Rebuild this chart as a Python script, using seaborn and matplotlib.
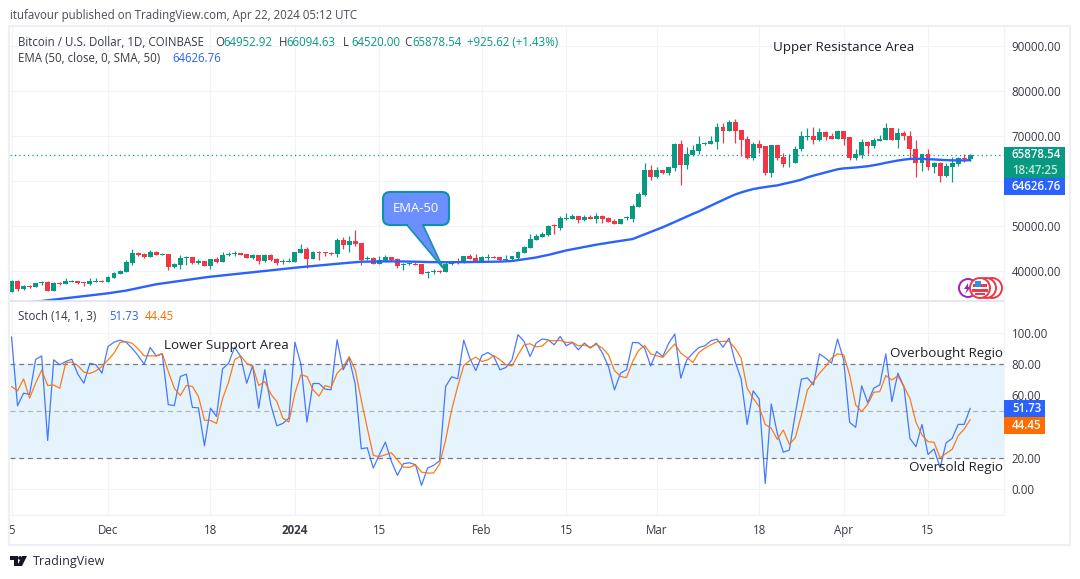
from abc import ABC, abstractmethod
import pandas as pd
import seaborn as sns
import matplotlib.pyplot as plt
from matplotlib.patches import Circle, FancyBboxPatch, Polygon, Rectangle

GREEN = '#089981'
RED = '#F23645'
BLUE = '#2962FF'
ORANGE = '#FF6D00'
GRID = '#f0f3fa'
TEXT = '#363a45'
WIDTH, HEIGHT = 1080, 579

# open, high, low, close of each day from Nov 15 to Apr 22
candles = [
    [35400, 37930, 35400, 37780], [37780, 37930, 35630, 36000], [36000, 36890, 35780, 36670], [36740, 36890, 36150, 36440],
    [36440, 37410, 36440, 37260], [37260, 37780, 36890, 37410], [37480, 37700, 35630, 35630], [35630, 37480, 35630, 37260],
    [37330, 37560, 36890, 37110], [37110, 38370, 37110, 37780], [37630, 38000, 37560, 37780], [37700, 37700, 37040, 37410],
    [37480, 37480, 36670, 37330], [37040, 38440, 36890, 37780], [37560, 38440, 37560, 37700], [37700, 38070, 37560, 37560],
    [37560, 38890, 37560, 38670], [38440, 39780, 38440, 39560], [39330, 40220, 39330, 40000], [39780, 42440, 39780, 42000],
    [41780, 44890, 41330, 44000], [44000, 44220, 43330, 43560], [43780, 44000, 42890, 43110], [43110, 44670, 43110, 44220],
    [44220, 44440, 43560, 43560], [43560, 44000, 43560, 43780], [43780, 43780, 40220, 40890], [40890, 41780, 40670, 41560],
    [41330, 43560, 40440, 42890], [42890, 43330, 41330, 43110], [43110, 43110, 41560, 41780], [41780, 42670, 41560, 42220],
    [42220, 42220, 41110, 41110], [41110, 42670, 40440, 42670], [42670, 43110, 41780, 42000], [42000, 44220, 42000, 43560],
    [43560, 44220, 43330, 43780], [43780, 44440, 43330, 44000], [44000, 44000, 43560, 43560], [43780, 43780, 42890, 42890],
    [42890, 43780, 42670, 43560], [43560, 43560, 41560, 42300], [42300, 43780, 42070, 43560], [43560, 43780, 42300, 42440],
    [42670, 42890, 41330, 41780], [42000, 42670, 41560, 42220], [42070, 42810, 42070, 42220], [42070, 44150, 42070, 44150],
    [44000, 46000, 44000, 44890], [44890, 45330, 40670, 42670], [42670, 44440, 42670, 44220], [44220, 44440, 42520, 44070],
    [44220, 44220, 43330, 44070], [43930, 44220, 43560, 43780], [43780, 47330, 43110, 46890], [46890, 47560, 44890, 45780],
    [45780, 47780, 44220, 46670], [46670, 49110, 45480, 46070], [46220, 46220, 41330, 42440], [42670, 43330, 42440, 42890],
    [42890, 43110, 41560, 41560], [41560, 43330, 41560, 42440], [42220, 43560, 42220, 43110], [43110, 43110, 42220, 42440],
    [42670, 42890, 40670, 41110], [41330, 41780, 40220, 41560], [41480, 41780, 41330, 41630], [41630, 41930, 41330, 41330],
    [41560, 41560, 39330, 39330], [39480, 40000, 38440, 39780], [39780, 40440, 39330, 40000], [40000, 40220, 39560, 39780],
    [39780, 42070, 39780, 41560], [41560, 42300, 41330, 42220], [42220, 42810, 41560, 42070], [41850, 43330, 41850, 43330],
    [43330, 43780, 42670, 42670], [42890, 43780, 42300, 42300], [42220, 43330, 42070, 43110], [42890, 43780, 42440, 43110],
    [43180, 43330, 42810, 42960], [43040, 43190, 42150, 42370], [42520, 43630, 42150, 42740], [42590, 43410, 42520, 43260],
    [42960, 44440, 42740, 44300], [44070, 45630, 44070, 45410], [45190, 48300, 45190, 47190], [46960, 48300, 46960, 47850],
    [47630, 48740, 47630, 48300], [48070, 50300, 47850, 50070], [50220, 50520, 48300, 50070], [49630, 52150, 49190, 51850],
    [51630, 52960, 51410, 51850], [51630, 52740, 51630, 52300], [52300, 52300, 50740, 51410], [51330, 52520, 51190, 52070],
    [52070, 52520, 51630, 51630], [51630, 52960, 50740, 52300], [52300, 52520, 50740, 51630], [51850, 52070, 50960, 50960],
    [51190, 51630, 50520, 50520], [50520, 51630, 50520, 51630], [51700, 52150, 51410, 51930], [51630, 54960, 50960, 54520],
    [54300, 57630, 54300, 57190], [56960, 64070, 56740, 62520], [62520, 63630, 60300, 60960], [60960, 63190, 60740, 62520],
    [62520, 62520, 61630, 61850], [61850, 63190, 61410, 63190], [62960, 68520, 62300, 68300], [68300, 69190, 59190, 63630],
    [63630, 67630, 62740, 66070], [65850, 68070, 65630, 66960], [66740, 70070, 66070, 68300], [68300, 68740, 68070, 68520],
    [68300, 70070, 68300, 68960], [68740, 72960, 67190, 72070], [72070, 72960, 68520, 71190], [71190, 73630, 71190, 73190],
    [73190, 73850, 68520, 71190], [71410, 71410, 65630, 69190], [69440, 70000, 64780, 65000], [65000, 68560, 64560, 68330],
    [68330, 69000, 66330, 67440], [67670, 67670, 61440, 61670], [61670, 68110, 60780, 67890], [67890, 68110, 64560, 65220],
    [65440, 66330, 63220, 63670], [63890, 66110, 63220, 64110], [63890, 67670, 63890, 67220], [67000, 71220, 66560, 69890],
    [69670, 71670, 69220, 69890], [69890, 71890, 68330, 69220], [69220, 71670, 68780, 70780], [70780, 71000, 69000, 69670],
    [69890, 70560, 69440, 69440], [69440, 71440, 69440, 71220], [71220, 71220, 68110, 69440], [69670, 69670, 64560, 65220],
    [65220, 67000, 64560, 66110], [65670, 69440, 65220, 68560], [68560, 68780, 66110, 67670], [67670, 69590, 67440, 69000],
    [68780, 70330, 68780, 69440], [69220, 72780, 69000, 71670], [71670, 71670, 69000, 69000], [69000, 71670, 67440, 70560],
    [70560, 71220, 69220, 69890], [70110, 71220, 65220, 67000], [67220, 69000, 60780, 63890], [63890, 65890, 62260, 65890],
    [65890, 67000, 62340, 63220], [63220, 64330, 61670, 63890], [63890, 64330, 59670, 61000], [61000, 63890, 60780, 63440],
    [63220, 65440, 59670, 63890], [63670, 65440, 63440, 65000], [65000, 65890, 64330, 64780], [64952.92, 66094.63, 64520, 65878.54],
]
ema = [
    32550, 32700, 32860, 33010, 33170, 33330, 33480, 33640, 33790, 33950, 34100, 34260, 34420, 34570, 34730, 34880,
    35040, 35250, 35450, 35640, 35930, 36210, 36490, 36770, 37050, 37240, 37430, 37640, 37830, 38020, 38200, 38380,
    38560, 38730, 38870, 39010, 39150, 39290, 39430, 39560, 39690, 39840, 39990, 40140, 40290, 40440, 40590, 40730,
    40850, 40980, 41100, 41230, 41350, 41480, 41600, 41720, 41840, 41960, 42070, 42090, 42110, 42120, 42130, 42140,
    42130, 42110, 42090, 42070, 42020, 41990, 41970, 41950, 41940, 41950, 41960, 41980, 41990, 42000, 42020, 42040,
    42060, 42090, 42150, 42220, 42420, 42600, 42800, 43000, 43300, 43560, 43890, 44240, 44570, 44830, 45090, 45340,
    45600, 45850, 46070, 46280, 46490, 46690, 46890, 47100, 47630, 48150, 48690, 49200, 49720, 50300, 50900, 51500,
    52120, 52700, 53250, 53900, 54530, 55160, 55800, 56400, 57000, 57450, 57850, 58200, 58450, 58650, 58850, 59020,
    59350, 59650, 59950, 60300, 60800, 61200, 61550, 61900, 62250, 62600, 62800, 62900, 63000, 63150, 63280, 63500,
    63750, 64050, 64300, 64550, 64750, 64900, 64950, 64920, 64860, 64790, 64700, 64640, 64590, 64570, 64580, 64626.76,
]
stoch_k = [
    97.5, 53.3, 61.4, 60.6, 83, 85.3, 31.1, 82.8, 79.6, 81.7, 83.2, 73.6, 67.8, 80.6, 79.6, 74.2,
    91.3, 94.1, 95.4, 94.1, 90.2, 85.5, 80, 90.7, 85.3, 86.6, 54, 53.5, 72.1, 73.6, 52.3, 52,
    27.7, 51.8, 46.5, 77, 80.6, 90.9, 84.9, 67.8, 79.1, 51.8, 76.4, 54, 40.5, 42, 45.4, 94.1,
    80, 42.9, 67.6, 67.6, 64, 63.6, 95.6, 76.4, 83.8, 67.2, 25.8, 26.4, 13.4, 21.9, 30, 17.7,
    8.7, 16.2, 16.8, 15.5, 2.3, 13.4, 15.1, 18.1, 65.7, 71.9, 70.6, 95.4, 83.8, 75.9, 85.5, 87.5,
    84.9, 76.4, 77.9, 82.8, 98.9, 94.6, 84.9, 93.5, 96.1, 95.6, 92.4, 97.8, 91.8, 93.9, 89.2, 93.5,
    90.3, 93.5, 87.1, 78.5, 63.5, 74.2, 76.4, 93.9, 93.7, 90.3, 78.9, 88.1, 84.9, 93.5, 99.3, 71,
    82.8, 87.1, 90.7, 91.8, 95, 96.1, 90.9, 96.7, 81.7, 70.6, 41.4, 62.9, 57.7, 3.5, 54.5, 35.6,
    23.6, 24.9, 48.5, 70.4, 71.2, 66.7, 86.6, 83.9, 80.6, 96.1, 82.8, 42.7, 39.5, 66.1, 55.4, 64.6,
    66.7, 86.6, 56, 74.2, 65.6, 32.4, 27.1, 41.4, 22.1, 25.6, 13.6, 29.6, 32.4, 41.4, 41.4, 51.73,
]
stoch_d = [
    65.7, 62.9, 70.6, 58.2, 67.8, 76.2, 66.3, 66.6, 64.6, 80.9, 81.3, 79.1, 74.9, 74, 75.7, 78.5,
    82.8, 87, 93.9, 94.5, 93.4, 89.8, 85.3, 85.3, 85.3, 86.8, 75.3, 64.6, 59.9, 66.3, 65.7, 59.3,
    44.1, 43.9, 42, 57.8, 68.5, 82.8, 85.3, 80.6, 78.5, 66.3, 68.9, 60.8, 56.1, 45.4, 42.9, 61.4,
    73.2, 72.1, 63.6, 59.5, 66.3, 65.1, 74.2, 78.1, 84.9, 76.4, 57.2, 39, 21.5, 20.7, 21.9, 23.2,
    18.7, 14, 13.8, 15.5, 10.8, 10.2, 10.2, 16, 31.5, 50.8, 65.7, 79.1, 82.3, 84.5, 81.7, 82.8,
    85.5, 82.8, 79.6, 78.9, 86, 92.4, 93.1, 91.1, 91.6, 95.2, 95, 95.2, 93.9, 94.1, 91.8, 92.2,
    90.9, 92.6, 90.3, 86, 75.9, 72.1, 71.4, 81.7, 88.8, 92, 86.6, 85.4, 84.3, 88.8, 92.9, 87.1,
    84.3, 81.1, 87.5, 90.3, 92.4, 94.4, 94.6, 94.6, 90.3, 83.9, 64.6, 58.1, 52.8, 41.4, 38.9, 31.8,
    37.8, 28.6, 32.9, 47.4, 63.5, 68.9, 74.2, 78.5, 83.9, 86.6, 86, 73.1, 53.9, 49.6, 54.3, 62,
    62.4, 72.7, 69.9, 72.5, 65.6, 58.1, 42.7, 34.6, 30.3, 29.9, 20, 22.8, 25.4, 34.1, 38.4, 44.45,
]

df = pd.DataFrame(candles, columns=['open', 'high', 'low', 'close'])
df['day'] = range(len(df))
df['ema'] = ema
df['k'] = stoch_k
df['d'] = stoch_d

day_ticks = [0, 16, 33, 47, 61, 78, 92, 107, 124, 138, 152]
day_labels = ['5', 'Dec', '18', '2024', '15', 'Feb', '15', 'Mar', '18', 'Apr', '15']

sns.set_theme(style='white')
plt.rcParams['font.family'] = ['Open Sans', 'DejaVu Sans']


def pane_rect(left, top, right, bottom):
    return [left / WIDTH, 1 - bottom / HEIGHT, (right - left) / WIDTH, (bottom - top) / HEIGHT]


class ChartPane(ABC):
    @abstractmethod
    def draw(self, df: pd.DataFrame):
        """
        Draw one part of the chart on the current figure.
        """
        pass


class pricePane(ChartPane):
    def draw(self, df: pd.DataFrame):
        """
        Draw the candles with the EMA line and the last price line.
        """
        plt.axes(pane_rect(10, 27, 1004, 301))
        colors = [GREEN if c >= o else RED for o, c in zip(df['open'], df['close'])]
        plt.vlines(df['day'], df['low'], df['high'], colors=colors, linewidth=0.85, zorder=3)
        bodies = (df['close'] - df['open']).abs().clip(lower=190)
        plt.bar(df['day'], bodies, bottom=df[['open', 'close']].min(axis=1), width=0.82,
                color=colors, linewidth=0, zorder=3)
        plt.axhline(65878.54, color=GREEN, linestyle=(0, (1, 2.5)), linewidth=0.9, zorder=2)
        sns.lineplot(x='day', y='ema', data=df, color=BLUE, linewidth=1.7, zorder=4)
        plt.xlim(-0.25, 164.6)
        plt.ylim(33333, 94222)
        plt.xlabel('')
        plt.ylabel('')
        plt.xticks(day_ticks, [])
        plt.yticks([40000, 50000, 60000, 70000, 80000, 90000])
        plt.gca().set_yticklabels(['40000.00', '50000.00', '', '70000.00', '80000.00', '90000.00'])
        plt.gca().yaxis.tick_right()
        plt.tick_params(axis='both', length=0, labelsize=8.3, labelcolor=TEXT, pad=5.5)
        plt.grid(color=GRID, linewidth=0.8, zorder=0)
        sns.despine(left=True, right=True, top=True, bottom=True)


class stochPane(ChartPane):
    def draw(self, df: pd.DataFrame):
        """
        Draw the stochastic lines and the band between 20 and 80.
        """
        plt.axes(pane_rect(10, 301, 1004, 515))
        plt.axhspan(20, 80, color='#e5f3fd', linewidth=0, zorder=1)
        plt.axhline(80, color='#787b86', linestyle=(0, (4, 3)), linewidth=0.9, zorder=2)
        plt.axhline(20, color='#787b86', linestyle=(0, (4, 3)), linewidth=0.9, zorder=2)
        plt.axhline(50, color='#b2b5be', linestyle=(0, (4, 3)), linewidth=0.9, zorder=2)
        sns.lineplot(x='day', y='k', data=df, color=BLUE, linewidth=0.9, alpha=0.85, zorder=3)
        sns.lineplot(x='day', y='d', data=df, color=ORANGE, linewidth=0.9, alpha=0.9, zorder=4)
        plt.xlim(-0.25, 164.6)
        plt.ylim(-16.7, 120.5)
        plt.xlabel('')
        plt.ylabel('')
        plt.xticks(day_ticks, day_labels)
        plt.yticks([0, 20, 40, 60, 80, 100])
        plt.gca().set_yticklabels(['0.00', '20.00', '', '60.00', '80.00', '100.00'])
        plt.gca().yaxis.tick_right()
        plt.tick_params(axis='y', length=0, labelsize=8.3, labelcolor=TEXT, pad=5.5)
        plt.tick_params(axis='x', length=0, labelsize=8.3, labelcolor=TEXT, pad=6.5)
        plt.gca().get_xticklabels()[3].set_fontweight('bold')
        plt.grid(color=GRID, linewidth=0.8, zorder=0)
        sns.despine(left=True, right=True, top=True, bottom=True)


class overlayPane(ChartPane):
    def draw(self, df: pd.DataFrame):
        """
        Draw the frame, the headers, the price tags and the notes in pixel positions.
        """
        ax = plt.axes([0, 0, 1, 1], facecolor='none')
        plt.xlim(0, WIDTH)
        plt.ylim(HEIGHT, 0)
        plt.axis('off')

        # frame around the chart
        for x0, y0, x1, y1 in [(9, 26, 1070, 26), (9, 26, 9, 545), (1070, 26, 1070, 545), (9, 545, 1070, 545)]:
            plt.plot([x0, x1], [y0, y1], color='#eef0f5', linewidth=1.6)
        plt.plot([10, 1004], [301, 301], color='#e0e3eb', linewidth=1.2)
        plt.plot([1004, 1004], [27, 515], color='#f0f3fa', linewidth=1)
        plt.plot([10, 1004], [515, 515], color='#f0f3fa', linewidth=1)

        # headers
        plt.text(10, 15, 'itufavour published on TradingView.com, Apr 22, 2024 05:12 UTC',
                 fontsize=8.3, color='#4a4d57', va='center')
        plt.text(18, 42, 'Bitcoin / U.S. Dollar, 1D, COINBASE', fontsize=8.3, color=TEXT, va='center')
        for x, letter in [(215, 'O'), (279, 'H'), (343, 'L'), (404, 'C')]:
            plt.text(x, 42, letter, fontsize=8.3, color=TEXT, va='center')
        for x, value in [(223, '64952.92'), (286.5, '66094.63'), (351, '64520.00'), (412, '65878.54'),
                         (467, '+925.62 (+1.43%)')]:
            plt.text(x, 42, value, fontsize=8.3, color=GREEN, va='center')
        plt.text(18, 59, 'EMA (50, close, 0, SMA, 50)', fontsize=8.3, color=TEXT, va='center')
        plt.text(172, 59, '64626.76', fontsize=8.3, color=BLUE, va='center')
        plt.text(18, 317, 'Stoch (14, 1, 3)', fontsize=8.3, color=TEXT, va='center')
        plt.text(109, 317, '51.73', fontsize=8.3, color=BLUE, va='center')
        plt.text(145, 317, '44.45', fontsize=8.3, color=ORANGE, va='center')

        # notes on the panes
        plt.text(773, 48, 'Upper Resistance Area', fontsize=9.6, color='#1c1f28', va='center')
        plt.text(164, 346, 'Lower Support Area', fontsize=9.6, color='#1c1f28', va='center')
        plt.text(1003, 353, 'Overbought Regio', fontsize=9.6, color='#1c1f28', va='center', ha='right')
        plt.text(1003, 467, 'Oversold Regio', fontsize=9.6, color='#1c1f28', va='center', ha='right')

        # price tags on the right axis
        for y0, y1, right, color in [(147, 178, 1065, GREEN), (178, 195, 1065, BLUE),
                                     (400, 417, 1045, BLUE), (417, 434, 1045, ORANGE)]:
            ax.add_patch(Rectangle((1004, y0), right - 1004, y1 - y0, color=color, linewidth=0, zorder=5))
        for y, label, color in [(155, '65878.54', 'white'), (170, '18:47:25', '#c8e6df'), (187, '64626.76', 'white'),
                                (408.5, '51.73', 'white'), (425.5, '44.45', 'white')]:
            plt.text(1012, y, label, fontsize=8.3, color=color, va='center', fontweight='semibold', zorder=6)

        # EMA-50 callout
        ax.add_patch(Polygon([(407, 225), (423, 225), (443, 268)], facecolor='#6b8fff', edgecolor='#0f93ad',
                             linewidth=1.2, zorder=6))
        ax.add_patch(FancyBboxPatch((387, 196), 58, 25, boxstyle='round,pad=4,rounding_size=7', facecolor='#6b8fff',
                                    edgecolor='#0f93ad', linewidth=1.5, zorder=7))
        ax.add_patch(Rectangle((408, 220), 14, 5.5, facecolor='#6b8fff', linewidth=0, zorder=8))
        plt.text(415.5, 208.5, 'EMA-50', fontsize=9.4, color='white', ha='center', va='center', zorder=9)

        # small market icons above the time axis
        ax.add_patch(Circle((968, 288), 9, facecolor='white', edgecolor='#9c27b0', linewidth=1.4, zorder=6))
        ax.add_patch(Polygon([(968, 283), (964, 289), (967, 289), (965, 294), (971, 287), (968, 287)],
                             color='#9c27b0', linewidth=0, zorder=6))
        for x in [992, 986]:
            ax.add_patch(Circle((x, 288), 10, facecolor='white', edgecolor='#f23645', linewidth=1.4, zorder=6))
        ax.add_patch(Circle((980, 288), 10, facecolor='white', edgecolor='#f23645', linewidth=1.4, zorder=7))
        ax.add_patch(Rectangle((973, 284), 14, 2.5, color='#f23645', linewidth=0, zorder=8))
        ax.add_patch(Rectangle((972, 289), 16, 2.5, color='#f23645', linewidth=0, zorder=8))
        ax.add_patch(Rectangle((975, 293), 10, 2, color='#f23645', linewidth=0, zorder=8))
        ax.add_patch(Rectangle((975, 281), 6, 6, color='#2196f3', linewidth=0, zorder=9))

        # TradingView mark and name at the bottom
        ax.add_patch(Polygon([(10, 556), (18, 556), (18, 566), (14, 566), (14, 560), (10, 560)], color='#131722',
                             linewidth=0))
        ax.add_patch(Circle((20, 558), 1.9, color='#131722', linewidth=0))
        ax.add_patch(Polygon([(22, 556), (27, 556), (22, 566), (17, 566)], color='#131722', linewidth=0))
        plt.text(33, 561, 'TradingView', fontsize=9, color='#2a2e39', va='center')


class ChartMain:
    def __init__(self, strategy: ChartPane):
        self._strategy = strategy

    def set_strategy(self, strategy: ChartPane) -> None:
        """ Set the pane to draw """
        self._strategy = strategy

    def execute_draw(self, df: pd.DataFrame) -> None:
        """ Draw the current pane """
        self._strategy.draw(df)


plt.figure(figsize=(WIDTH / 100, HEIGHT / 100), dpi=100)
chart = ChartMain(pricePane())
chart.execute_draw(df)
chart.set_strategy(stochPane())
chart.execute_draw(df)
chart.set_strategy(overlayPane())
chart.execute_draw(df)
plt.savefig('out.png', dpi=100)
